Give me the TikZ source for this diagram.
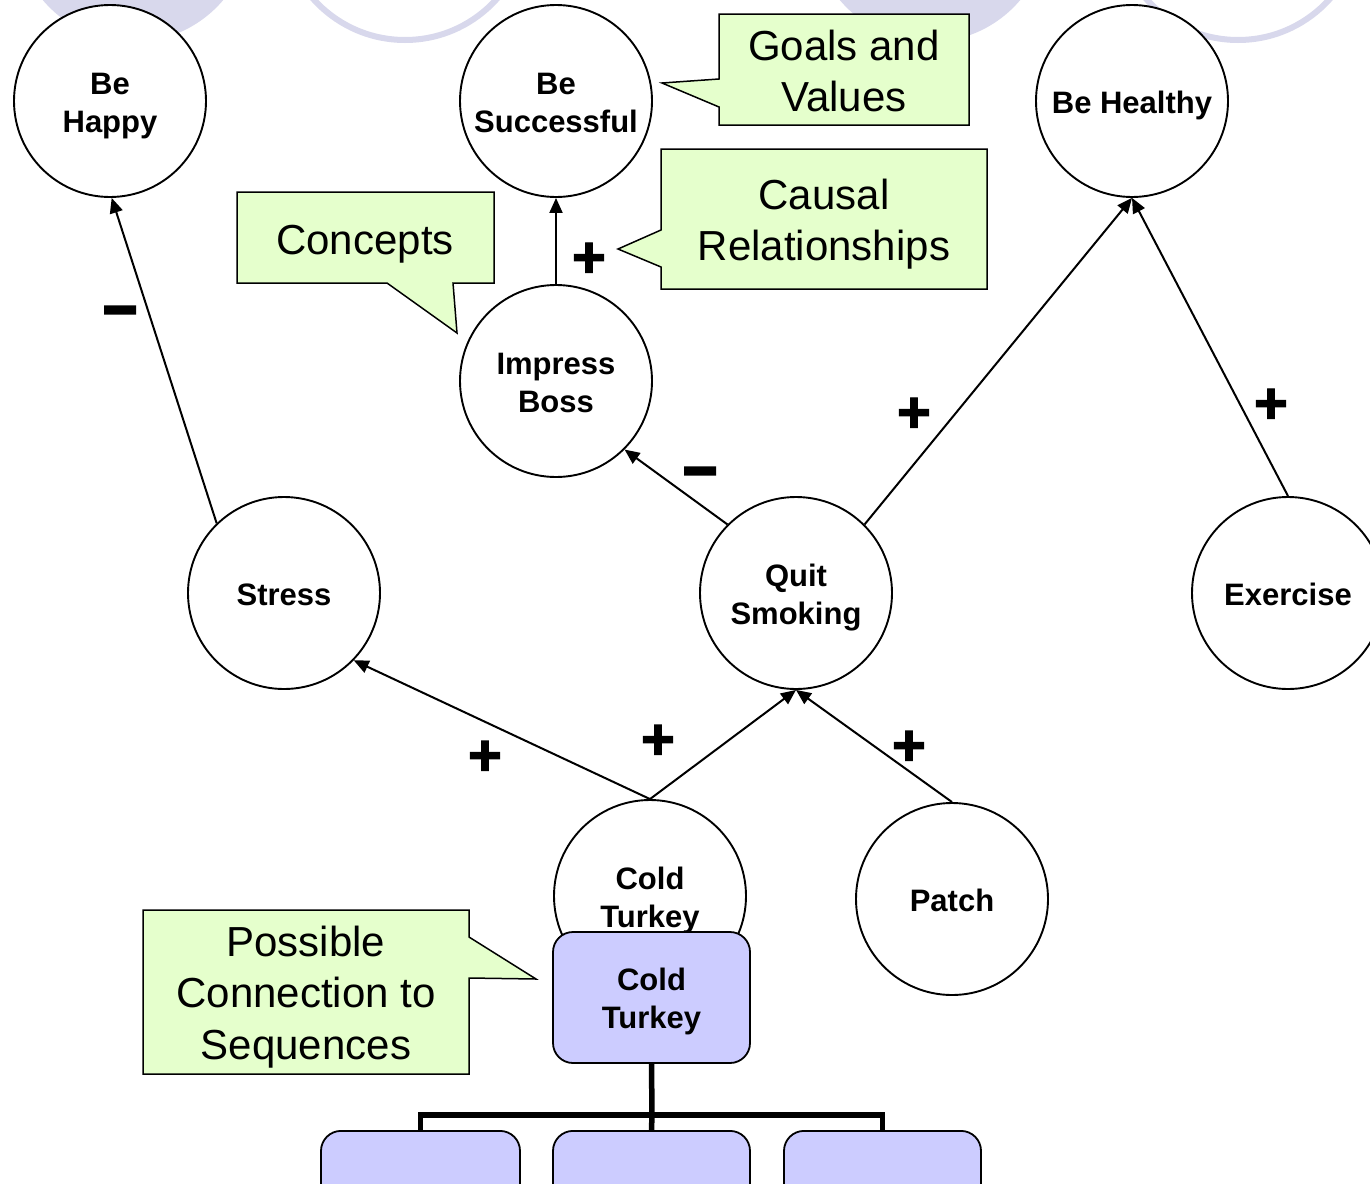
\documentclass[tikz,border=0pt]{standalone}
\usepackage{fontspec}
\setmainfont{Liberation Sans}
\newfontfamily\signfont{Liberation Sans Bold}[FakeBold=2]
\newfontfamily\minusfont{Liberation Sans Bold}[FakeBold=5]
\usetikzlibrary{arrows.meta}
\definecolor{lav}{RGB}{216,216,236}
\definecolor{callgreen}{RGB}{229,255,204}
\definecolor{seqblue}{RGB}{204,204,255}
\begin{document}
\begin{tikzpicture}[x=1pt,y=-1pt,
  concept/.style={circle, draw, line width=1.9pt, fill=white, minimum size=192pt,
    inner sep=0pt, align=center, font=\bfseries\fontsize{31}{38}\selectfont,
    text height=24pt, text depth=0pt},
  twoline/.style={text height=62pt, text depth=0pt},
  causal/.style={line width=2pt, -{Triangle[length=15pt,width=13pt]}},
  sign/.style={font=\signfont\fontsize{58}{58}\selectfont, inner sep=0pt},
  minus/.style={font=\minusfont\fontsize{58}{58}\selectfont, inner sep=0pt},
  callout/.style={draw, line width=1.5pt, fill=callgreen},
  calltext/.style={align=center, font=\fontsize{42}{51.5}\selectfont},
  seqbox/.style={draw, line width=1.8pt, fill=seqblue, rounded corners=20pt},
  seqlink/.style={line width=5.5pt}]
\clip (0,0) rectangle (1370,1183);
\fill[white] (0,0) rectangle (1370,1183);

% decorative circles along the top edge
\fill[lav] (133,-76) circle (118);
\draw[lav, line width=6pt] (405,-83) circle (123);
\fill[lav] (930,-76) circle (118);
\draw[lav, line width=6pt] (1238,-83) circle (123);

% callouts
\draw[callout] (719,14) -- (969,14) -- (969,125) -- (719,125) -- (719,107) -- (662,83) -- (719,79) -- cycle;
\node[calltext] (tgoals) at (844,71) {Goals and\\Values};
\draw[callout] (661,149) -- (987,149) -- (987,289) -- (661,289) -- (661,267) -- (618,249) -- (661,230) -- cycle;
\node[calltext] (tcausal) at (824,224) {Causal\\Relationships};
\draw[callout] (237,192) -- (494,192) -- (494,283) -- (453,283) -- (457,333) -- (387,283) -- (237,283) -- cycle;
\node[calltext] (tconcepts) at (365,244) {Concepts};
\draw[callout] (143,910) -- (469,910) -- (469,937) -- (536,979) -- (469,978) -- (469,1074) -- (143,1074) -- cycle;
\node[calltext] (tseq) at (306,997) {Possible\\Connection to\\Sequences};

% concepts
\node[concept, twoline] (happy) at (110,101) {Be\\Happy};
\node[concept, twoline] (success) at (556,101) {Be\\Successful};
\node[concept] (healthy) at (1132,101) {Be Healthy};
\node[concept, twoline] (boss) at (556,381) {Impress\\Boss};
\node[concept] (stress) at (284,593) {Stress};
\node[concept, twoline] (quit) at (796,593) {Quit\\Smoking};
\node[concept] (exercise) at (1288,593) {Exercise};
\node[concept, twoline] (cold) at (650,896) {Cold\\Turkey};
\node[concept] (patch) at (952,899) {Patch};

% causal links
\draw[causal] (stress.134) -- (happy.271);
\draw[causal] (boss.north) -- (success.south);
\draw[causal] (quit.135) -- (boss.315);
\draw[causal] (quit.45) -- (healthy.270);
\draw[causal] (exercise.north) -- (healthy.270);
\draw[causal] (cold.north) -- (stress.316);
\draw[causal] (cold.north) -- (quit.south);
\draw[causal] (patch.north) -- (quit.south);

% link polarities
\node[minus] (s1) at (120,318) {−};
\node[sign] (s2) at (589,260) {+};
\node[minus] (s3) at (700,479) {−};
\node[sign] (s4) at (914,415) {+};
\node[sign] (s5) at (1271,406) {+};
\node[sign] (s6) at (485,758) {+};
\node[sign] (s7) at (658,742) {+};
\node[sign] (s8) at (909,748) {+};

% sequence of steps
\node[seqbox, twoline, minimum width=197pt, minimum height=131pt, align=center,
  font=\bfseries\fontsize{31}{38}\selectfont] (seq) at (651.5,997.5) {Cold\\Turkey};
\node[seqbox, minimum width=199pt, minimum height=140pt, anchor=north] (step1) at (420.5,1130) {};
\node[seqbox, minimum width=197pt, minimum height=140pt, anchor=north] (step2) at (651.5,1130) {};
\node[seqbox, minimum width=197pt, minimum height=140pt, anchor=north] (step3) at (882.5,1130) {};
\coordinate (fork) at (652,1115);
\draw[seqlink] (seq.south) -- (fork);
\draw[seqlink] (step1.north) |- (fork) -| (step3.north);
\draw[seqlink] (fork) -- (step2.north);
\end{tikzpicture}
\end{document}
